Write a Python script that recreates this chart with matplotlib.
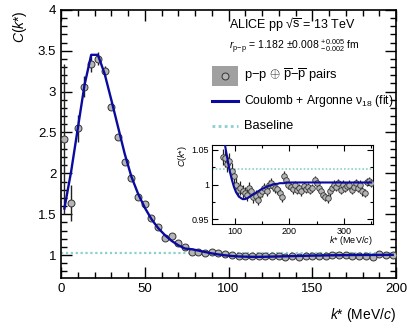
import numpy as np
import matplotlib
matplotlib.use('Agg')
import matplotlib.pyplot as plt
from matplotlib.patches import Rectangle
from matplotlib.ticker import MultipleLocator, FormatStrFormatter

plt.rcParams['font.family'] = ['Liberation Sans', 'DejaVu Sans']
plt.rcParams['mathtext.fontset'] = 'custom'
plt.rcParams['mathtext.rm'] = 'Liberation Sans'
plt.rcParams['mathtext.it'] = 'Liberation Sans:italic'
plt.rcParams['mathtext.bf'] = 'Liberation Sans:bold'

# bin centres (MeV/c), 4 MeV bins
k_star = np.arange(2, 351, 4)

# measured correlation function
c_data = np.array([
    2.42, 1.64, 2.55, 3.06, 3.34, 3.40, 3.25, 2.81, 2.44, 2.14,
    1.94, 1.71, 1.62, 1.45, 1.35, 1.21, 1.23, 1.15, 1.10, 1.040,
    1.038, 1.030, 1.034, 1.020, 1.012, 1.000, 0.992, 0.995, 0.990, 0.988,
    0.985, 0.995, 0.990, 0.982, 0.984, 0.978, 0.986, 0.990, 0.995, 0.990,
    1.000, 1.002, 0.998, 0.995, 0.993, 0.988, 0.982, 1.012, 1.006, 1.000,
    0.996, 0.993, 0.999, 0.992, 0.995, 0.990, 0.998, 0.994, 0.996, 0.992,
    0.995, 1.006, 1.002, 0.995, 0.990, 0.985, 0.982, 0.980, 0.990, 0.995,
    1.000, 0.996, 1.002, 0.992, 1.000, 0.995, 0.998, 1.000, 0.992, 0.996,
    1.002, 0.995, 1.000, 0.990, 0.988, 1.004, 1.005, 1.002,
])
c_err = np.array([
    0.92, 0.22, 0.17, 0.13, 0.10, 0.08, 0.06, 0.04, 0.03, 0.02,
    0.015, 0.012, 0.010, 0.010, 0.010, 0.010, 0.010, 0.010, 0.010, 0.012,
    0.012, 0.012, 0.011, 0.011, 0.010, 0.010, 0.010, 0.010, 0.009, 0.009,
    0.009, 0.009, 0.008, 0.008, 0.008, 0.008, 0.008, 0.008, 0.007, 0.007,
    0.007, 0.007, 0.007, 0.007, 0.007, 0.007, 0.007, 0.007, 0.007, 0.006,
    0.006, 0.006, 0.006, 0.006, 0.006, 0.006, 0.006, 0.006, 0.006, 0.006,
    0.006, 0.006, 0.006, 0.006, 0.006, 0.006, 0.006, 0.006, 0.006, 0.006,
    0.006, 0.006, 0.006, 0.006, 0.006, 0.006, 0.006, 0.006, 0.006, 0.006,
    0.006, 0.006, 0.006, 0.006, 0.006, 0.006, 0.006, 0.006,
])

# Coulomb + Argonne v18 fit
c_fit = np.array([
    1.57, 2.02, 2.55, 3.08, 3.45, 3.45, 3.22, 2.90, 2.57, 2.24,
    1.96, 1.75, 1.58, 1.44, 1.33, 1.245, 1.175, 1.12, 1.08, 1.072,
    1.056, 1.038, 1.021, 1.008, 0.997, 0.989, 0.984, 0.981, 0.979, 0.979,
    0.980, 0.982, 0.984, 0.986, 0.988, 0.990, 0.992, 0.994, 0.995, 0.997,
    0.998, 0.999, 1.000, 1.001, 1.001, 1.002, 1.002, 1.002, 1.003, 1.003,
    1.003, 1.003, 1.003, 1.003, 1.003, 1.003, 1.003, 1.003, 1.003, 1.003,
    1.003, 1.003, 1.003, 1.003, 1.003, 1.003, 1.003, 1.003, 1.003, 1.003,
    1.003, 1.003, 1.003, 1.003, 1.003, 1.003, 1.003, 1.003, 1.003, 1.003,
    1.003, 1.003, 1.003, 1.003, 1.003, 1.003, 1.003, 1.003,
])
baseline = 1.023

fit_col = '#0a0a9e'
base_col = '#8ccfd0'
pt_face = '#b4b4b4'

fig = plt.figure(figsize=(4.07, 3.29), dpi=100)
ax = fig.add_axes([0.150, 0.155, 0.823, 0.815])

main = k_star <= 200
ax.axhline(baseline, color=base_col, lw=1.6, ls=(0, (1, 1.2)))
ax.errorbar(k_star[main], c_data[main], yerr=c_err[main], fmt='o', ms=5,
            mfc=pt_face, mec='#333333', mew=0.7, ecolor='#222222', elinewidth=1, capsize=0, zorder=3)
ax.plot(k_star[main], c_fit[main], color=fit_col, lw=1.7, zorder=4)

ax.set_xlim(0, 200)
ax.set_ylim(0.72, 4)
ax.xaxis.set_major_locator(MultipleLocator(50))
ax.xaxis.set_minor_locator(MultipleLocator(10))
ax.yaxis.set_major_locator(MultipleLocator(0.5))
ax.yaxis.set_minor_locator(MultipleLocator(0.1))
ax.yaxis.set_major_formatter(FormatStrFormatter('%g'))
ax.tick_params(which='both', direction='in', top=True, right=True, labelsize=9.5, width=1)
ax.tick_params(which='major', length=8)
ax.tick_params(which='minor', length=4)
for s in ax.spines.values():
    s.set_linewidth(1.2)
ax.set_xlabel(r'$k$* (MeV/$c$)', fontsize=10, loc='right', labelpad=8)
ax.set_ylabel(r'$C$($k$*)', fontsize=10, loc='top', labelpad=6)

# annotations
ax.text(0.501, 0.948, r'ALICE pp √$\overline{\mathrm{s}}$ = 13 TeV', transform=ax.transAxes,
        fontsize=9.0, va='center')
ax.text(0.501, 0.862, r'$r_{\mathrm{p\!-\!p}}$ = 1.182 $\pm$0.008 $^{+0.005}_{-0.002}$ fm',
        transform=ax.transAxes, fontsize=7.5, va='center')

# legend
ax.add_patch(Rectangle((0.451, 0.716), 0.077, 0.075, transform=ax.transAxes,
                       facecolor='#a0a0a0', edgecolor='none'))
ax.plot([0.4895], [0.754], 'o', ms=5, mfc=pt_face, mec='#333333', mew=0.7,
        transform=ax.transAxes)
ax.text(0.546, 0.754, r'p$-$p $\oplus$ $\overline{\mathrm{p}}$$-$$\overline{\mathrm{p}}$ pairs',
        transform=ax.transAxes, fontsize=9.3, va='center')
ax.plot([0.451, 0.528], [0.660, 0.660], color=fit_col, lw=2.2, transform=ax.transAxes)
ax.text(0.546, 0.660, 'Coulomb + Argonne ν$_{18}$ (fit)', transform=ax.transAxes,
        fontsize=8.7, va='center')
ax.plot([0.451, 0.528], [0.567, 0.567], color=base_col, lw=2, ls=(0, (1, 1.2)),
        transform=ax.transAxes)
ax.text(0.546, 0.567, 'Baseline', transform=ax.transAxes, fontsize=9.3, va='center')

# inset
ins = fig.add_axes([0.521, 0.319, 0.395, 0.240])
inset = k_star >= 78
ins.axhline(baseline, color=base_col, lw=1.2, ls=(0, (1, 1.2)))
ins.errorbar(k_star[inset], c_data[inset], yerr=c_err[inset], fmt='o', ms=4,
             mfc=pt_face, mec='#333333', mew=0.6, ecolor='#222222', elinewidth=0.9,
             capsize=0, zorder=3)
ins.plot(k_star[k_star >= 74], c_fit[k_star >= 74], color=fit_col, lw=1.5, zorder=4)
ins.set_xlim(58, 353)
ins.set_ylim(0.943, 1.057)
ins.xaxis.set_major_locator(MultipleLocator(100))
ins.xaxis.set_minor_locator(MultipleLocator(50))
ins.yaxis.set_major_locator(MultipleLocator(0.05))
ins.yaxis.set_minor_locator(MultipleLocator(0.025))
ins.yaxis.set_major_formatter(FormatStrFormatter('%g'))
ins.tick_params(which='both', direction='in', top=True, right=True, labelsize=6.5, width=0.8, pad=2)
ins.tick_params(which='major', length=4)
ins.tick_params(which='minor', length=2)
ins.set_xlabel(r'$k$* (MeV/$c$)', fontsize=6.5, loc='right', labelpad=-1)
ins.set_ylabel(r'$C$($k$*)', fontsize=6.5, loc='top', labelpad=2)

fig.savefig('out.png', dpi=100)
